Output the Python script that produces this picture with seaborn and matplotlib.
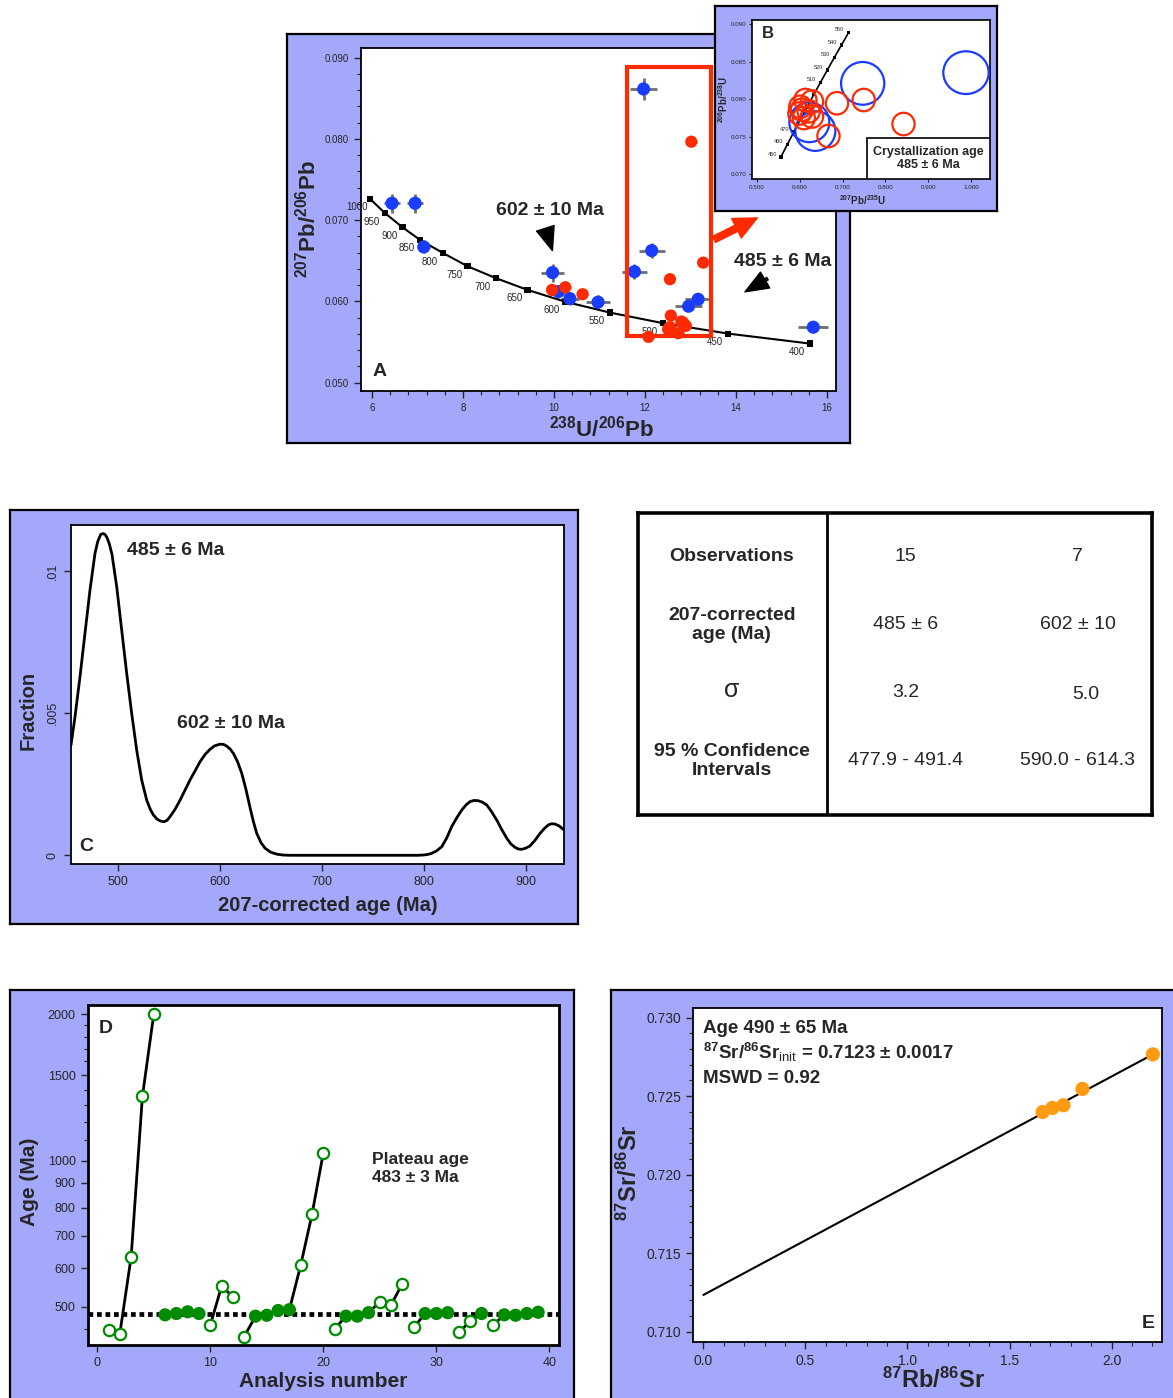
import numpy as np
import pandas as pd
import matplotlib
matplotlib.use("Agg")
import matplotlib.pyplot as plt
import seaborn as sns
from matplotlib.patches import Ellipse, Rectangle, FancyArrowPatch
from matplotlib.ticker import MultipleLocator, FormatStrFormatter, NullFormatter

sns.set_style("ticks")
plt.rcParams['font.family'] = ['Liberation Sans', 'DejaVu Sans']
plt.rcParams['mathtext.fontset'] = 'custom'
plt.rcParams['mathtext.rm'] = 'Liberation Sans'
plt.rcParams['mathtext.bf'] = 'Liberation Sans:bold'
plt.rcParams['mathtext.default'] = 'bf'

LAV = '#A4A8FA'
BLUE = '#1a3cff'
RED = '#ff2a00'
GREEN = '#008c00'
ORANGE = '#ff9b12'

# ---- panel A : Tera-Wasserburg ----
conc_age = [1000, 950, 900, 850, 800, 750, 700, 650, 600, 550, 500, 450, 400]
conc_x = [5.96, 6.29, 6.67, 7.06, 7.57, 8.10, 8.73, 9.42, 10.24, 11.23, 12.40, 13.83, 15.63]
conc_y = [0.07261, 0.07085, 0.06913, 0.06756, 0.06593, 0.06433, 0.06285, 0.06141,
          0.05997, 0.05862, 0.05731, 0.05603, 0.05480]

a_blue_x = [6.44, 6.95, 7.14, 9.97, 10.10, 10.35, 10.97, 11.97, 12.15, 11.77, 12.96, 13.17, 15.70]
a_blue_y = [0.07208, 0.07208, 0.06670, 0.06354, 0.06120, 0.06034, 0.05990, 0.08615,
            0.06625, 0.06366, 0.05940, 0.06026, 0.05682]
a_blue_xerr = [0.17, 0.17, 0.13, 0.25, 0.20, 0.20, 0.27, 0.29, 0.29, 0.27, 0.30, 0.29, 0.33]
a_blue_yerr = [0.0012, 0.0012, 0.0008, 0.0011, 0.0008, 0.0008, 0.0009, 0.0014,
               0.0009, 0.0009, 0.0006, 0.0008, 0.0005]

a_red_x = [9.96, 10.25, 10.63, 13.02, 13.28, 12.55, 12.57, 12.08, 12.55, 12.80, 12.90, 12.73, 12.51, 12.84]
a_red_y = [0.06141, 0.06174, 0.06088, 0.07966, 0.06477, 0.06273, 0.05825, 0.05563,
           0.05682, 0.05751, 0.05698, 0.05608, 0.05657, 0.05738]
a_red_xerr = 0.12
a_red_yerr = 0.0003

# ---- panel B : Wetherill concordia inset ----
b_conc_age = [450, 460, 470, 480, 490, 500, 510, 520, 530, 540, 550]
b_conc_x = [0.5559, 0.5709, 0.5860, 0.6013, 0.6168, 0.6325, 0.6484, 0.6645, 0.6807, 0.6972, 0.7138]
b_conc_y = [0.07232, 0.07398, 0.07564, 0.07729, 0.07895, 0.08061, 0.08226, 0.08392,
            0.08557, 0.08722, 0.08887]
b_conc_shown = [450, 460, 470, 510, 520, 530, 540, 550]

b_blue_x = [0.7469, 0.9883, 0.6222, 0.6363]
b_blue_y = [0.08212, 0.08355, 0.07693, 0.07577]
b_blue_w = [0.101, 0.106, 0.0935, 0.0935]
b_blue_h = [0.0057, 0.0057, 0.0053, 0.0053]

b_red_x = [0.6869, 0.7493, 0.8423, 0.6670, 0.6130, 0.6285, 0.6012, 0.6208, 0.5990, 0.6093, 0.6285, 0.6050]
b_red_y = [0.07947, 0.07990, 0.07670, 0.07510, 0.07990, 0.07970, 0.07900, 0.07840,
           0.07810, 0.07750, 0.07770, 0.07860]
b_red_w = 0.052
b_red_h = 0.0030

# ---- panel C : probability density ----
c_age = [454.3, 458.2, 463.1, 468.0, 472.9, 477.8, 480.5, 483.3, 485.4, 487.6, 489.8, 492.0,
         494.5, 499.1, 504.0, 508.9, 513.8, 518.7, 523.6, 528.5, 532.0, 535.0, 538.5, 541.6,
         545.5, 548.5, 551.4, 556.0, 561.2, 571.0, 580.8, 586.0, 590.6, 595.0, 600.4, 604.0,
         607.0, 610.5, 613.4, 617.5, 621.7, 625.8, 629.8, 633.0, 636.4, 640.5, 644.5, 650.0,
         656.0, 662.0, 669.0, 700.0, 750.0, 794.0, 799.7, 804.0, 807.9, 812.5, 817.7, 822.5,
         827.5, 832.5, 837.3, 841.5, 845.5, 849.5, 853.6, 857.5, 861.9, 866.5, 871.7, 876.5,
         881.5, 885.5, 889.6, 893.0, 896.2, 900.0, 904.3, 909.0, 914.1, 918.5, 922.3, 925.5,
         928.8, 932.5, 937.0]
c_frac = [0.00388, 0.00487, 0.00628, 0.00781, 0.00933, 0.01062, 0.01104, 0.01128, 0.01132,
          0.01129, 0.01116, 0.01094, 0.01058, 0.00945, 0.00792, 0.00640, 0.00499, 0.00370,
          0.00265, 0.00194, 0.00162, 0.00142, 0.00128, 0.00121, 0.00118, 0.00123, 0.00136,
          0.00160, 0.00194, 0.00265, 0.00329, 0.00356, 0.00373, 0.00385, 0.00391, 0.00390,
          0.00384, 0.00373, 0.00359, 0.00330, 0.00288, 0.00232, 0.00168, 0.00120, 0.00077,
          0.00045, 0.00025, 0.00011, 0.00004, 0.00001, 0.0, 0.0, 0.0, 0.0, 0.00001,
          0.00003, 0.00007, 0.00015, 0.00030, 0.00060, 0.00101, 0.00132, 0.00159, 0.00177,
          0.00189, 0.00193, 0.00192, 0.00187, 0.00177, 0.00154, 0.00124, 0.00091, 0.00060,
          0.00040, 0.00028, 0.00022, 0.00021, 0.00025, 0.00033, 0.00052, 0.00077, 0.00095,
          0.00107, 0.00111, 0.00110, 0.00104, 0.00091]

# ---- table ----
tab_rows = ["Observations", "207-corrected\nage (Ma)", "σ", "95 % Confidence\nIntervals"]
tab_young = ["15", "485 ± 6", "3.2", "477.9 - 491.4"]
tab_old = ["7", "602 ± 10", "5.0", "590.0 - 614.3"]

# ---- panel D : step-heating ages ----
d_n = list(range(1, 40))
d_age = [447, 440, 633, 1358, 2000, 481, 484, 488, 484, 458, 551, 524, 434, 478, 480, 491,
         493, 609, 775, 1038, 450, 478, 478, 486, 512, 505, 558, 453, 484, 484, 486, 443,
         467, 484, 458, 481, 480, 484, 487]
d_plateau_steps = [6, 7, 8, 9, 14, 15, 16, 17, 22, 23, 24, 29, 30, 31, 34, 36, 37, 38, 39]
d_links = [[2, 3, 4, 5], [10, 11, 12], [13, 14], [17, 18, 19, 20], [21, 22], [24, 25],
           [26, 27], [28, 29], [32, 33, 34], [35, 36]]
d_plateau_age = 483

# ---- panel E : Rb-Sr isochron ----
e_rb = [1.662, 1.710, 1.764, 1.857, 2.202]
e_sr = [0.72399, 0.72425, 0.72442, 0.72546, 0.72766]
iso_x = [0.0, 2.202]
iso_y = [0.71234, 0.72766]

W, H = 1173, 1398
fig = plt.figure(figsize=(W / 100, H / 100), dpi=100)


def px_axes(l, t, r, b, z=1):
    return fig.add_axes([l / W, 1 - b / H, (r - l) / W, (b - t) / H], zorder=z)


def frame(l, t, r, b, z=0):
    f = px_axes(l, t, r, b, z)
    f.set_facecolor(LAV)
    f.set_xticks([])
    f.set_yticks([])
    for s in f.spines.values():
        s.set_linewidth(1.6)
        s.set_color('black')
    return f


def spines(ax, lw):
    for s in ax.spines.values():
        s.set_linewidth(lw)
        s.set_color('black')


# ================= A =================
frame(287, 34, 850, 443, 0)
axA = px_axes(361, 48.3, 836, 390.7, 1)
axA.errorbar(a_blue_x, a_blue_y, xerr=a_blue_xerr, yerr=a_blue_yerr, fmt='none',
             ecolor='#6e6e6e', elinewidth=2, capsize=0, zorder=2)
axA.errorbar(a_red_x, a_red_y, xerr=a_red_xerr, yerr=a_red_yerr, fmt='none',
             ecolor='#6e6e6e', elinewidth=2, capsize=0, zorder=2)
sns.lineplot(x=conc_x, y=conc_y, ax=axA, color='black', linewidth=1.5, sort=False,
             estimator=None, zorder=3)
sns.scatterplot(x=conc_x, y=conc_y, ax=axA, color='black', marker='s', s=20,
                edgecolor='none', zorder=3)
for ag, x, y in zip(conc_age, conc_x, conc_y):
    axA.annotate(str(ag), (x, y), xytext=(-9.5, -6), textcoords='offset points',
                 fontsize=7, ha='center', va='center', zorder=3)
sns.scatterplot(x=a_blue_x, y=a_blue_y, ax=axA, color=BLUE, s=90, edgecolor='none', zorder=4)
sns.scatterplot(x=a_red_x, y=a_red_y, ax=axA, color=RED, s=78, edgecolor='none', zorder=5)
axA.add_patch(Rectangle((11.61, 0.05575), 1.84, 0.03307, fill=False, ec=RED, lw=3, zorder=6))
axA.add_patch(FancyArrowPatch((13.466, 0.06748), (14.527, 0.07043),
                              arrowstyle='simple,head_length=1.4,head_width=1.3,tail_width=0.4',
                              mutation_scale=12, color=RED, zorder=6, clip_on=False))
axA.add_patch(FancyArrowPatch((9.80, 0.0692), (9.985, 0.06593),
                              arrowstyle='simple,head_length=1.4,head_width=1.1,tail_width=0.17',
                              mutation_scale=12, color='black', zorder=6))
axA.add_patch(FancyArrowPatch((14.747, 0.06297), (14.147, 0.0610),
                              arrowstyle='simple,head_length=1.4,head_width=1.1,tail_width=0.17',
                              mutation_scale=12, color='black', zorder=6))
axA.text(9.912, 0.07113, "602 ± 10 Ma", fontsize=14, fontweight='bold', ha='center', va='center')
axA.text(15.02, 0.06489, "485 ± 6 Ma", fontsize=14, fontweight='bold', ha='center', va='center')
axA.text(0.04, 0.055, "A", transform=axA.transAxes, fontsize=14, fontweight='bold',
         ha='center', va='center')
axA.set_xlim(5.76, 16.2)
axA.set_ylim(0.0490, 0.09116)
axA.set_xticks([6, 8, 10, 12, 14, 16])
axA.xaxis.set_minor_locator(MultipleLocator(0.4))
axA.set_yticks([0.05, 0.06, 0.07, 0.08, 0.09])
axA.yaxis.set_minor_locator(MultipleLocator(0.002))
axA.yaxis.set_major_formatter(FormatStrFormatter('%.3f'))
axA.tick_params(which='major', direction='out', labelsize=7, length=5, width=1)
axA.tick_params(which='minor', direction='out', length=3, width=0.8)
axA.set_xlabel(r'$^{238}$U/$^{206}$Pb', fontsize=16, fontweight='bold', va='center')
axA.set_ylabel(r'$^{207}$Pb/$^{206}$Pb', fontsize=16, fontweight='bold', va='center')
axA.xaxis.set_label_coords(0.507, -0.11)
axA.yaxis.set_label_coords(-0.112, 0.50)
spines(axA, 1.3)

# ================= B (inset) =================
frame(715, 6, 997, 211, 2)
axB = px_axes(752, 20, 989.7, 179, 3)
for x, y, w, h in zip(b_blue_x, b_blue_y, b_blue_w, b_blue_h):
    axB.add_patch(Ellipse((x, y), w, h, fill=False, ec=BLUE, lw=1.6, zorder=3))
for x, y in zip(b_red_x, b_red_y):
    axB.add_patch(Ellipse((x, y), b_red_w, b_red_h, fill=False, ec=RED, lw=1.6, zorder=4))
sns.lineplot(x=b_conc_x, y=b_conc_y, ax=axB, color='black', linewidth=1.2, sort=False,
             estimator=None, zorder=2)
sns.scatterplot(x=b_conc_x, y=b_conc_y, ax=axB, color='black', marker='s', s=6,
                edgecolor='none', zorder=2)
for ag, x, y in zip(b_conc_age, b_conc_x, b_conc_y):
    if ag in b_conc_shown:
        axB.annotate(str(ag), (x, y), xytext=(-3, 2), textcoords='offset points',
                     fontsize=4, ha='right', va='center', zorder=2)
axB.add_patch(Rectangle((0.484, 0.0), 0.516, 0.256, transform=axB.transAxes, fc='white',
                        ec='black', lw=1.2, zorder=5))
axB.text(0.742, 0.128, "Crystallization age\n485 ± 6 Ma", transform=axB.transAxes,
         fontsize=9, fontweight='bold', ha='center', va='center', linespacing=1.05, zorder=6)
axB.text(0.065, 0.915, "B", transform=axB.transAxes, fontsize=12, fontweight='bold',
         ha='center', va='center')
axB.set_xlim(0.4883, 1.0437)
axB.set_ylim(0.06937, 0.09057)
axB.set_xticks([0.5, 0.6, 0.7, 0.8, 0.9, 1.0])
axB.set_yticks([0.070, 0.075, 0.080, 0.085, 0.090])
axB.xaxis.set_major_formatter(FormatStrFormatter('%.3f'))
axB.yaxis.set_major_formatter(FormatStrFormatter('%.3f'))
axB.tick_params(direction='out', labelsize=4.5, length=2.5, width=0.8, pad=1.5)
axB.set_xlabel(r'$^{207}$Pb/$^{235}$U', fontsize=7, fontweight='bold', va='center')
axB.set_ylabel(r'$^{206}$Pb/$^{238}$U', fontsize=7, fontweight='bold', va='center')
axB.xaxis.set_label_coords(0.465, -0.13)
axB.yaxis.set_label_coords(-0.12, 0.50)
spines(axB, 1.2)

# ================= C =================
frame(10, 510, 578, 924, 0)
axC = px_axes(70.7, 525, 563.8, 864, 1)
sns.lineplot(x=c_age, y=c_frac, ax=axC, color='black', linewidth=2, sort=False, estimator=None)
axC.set_xlim(454, 937.4)
axC.set_ylim(-0.000306, 0.01162)
axC.set_xticks([500, 600, 700, 800, 900])
axC.set_yticks([0, 0.005, 0.01])
axC.set_yticklabels(['0', '.005', '.01'], rotation=90, va='center')
axC.tick_params(direction='out', labelsize=9, length=5, width=1)
axC.text(556.6, 0.01071, "485 ± 6 Ma", fontsize=14, fontweight='bold', ha='center', va='center')
axC.text(611, 0.00465, "602 ± 10 Ma", fontsize=14, fontweight='bold', ha='center', va='center')
axC.text(0.032, 0.051, "C", transform=axC.transAxes, fontsize=14, fontweight='bold',
         ha='center', va='center')
axC.set_xlabel("207-corrected age (Ma)", fontsize=14.5, fontweight='bold', va='center')
axC.set_ylabel("Fraction", fontsize=14.5, fontweight='bold', va='center')
axC.xaxis.set_label_coords(0.522, -0.121)
axC.yaxis.set_label_coords(-0.087, 0.454)
spines(axC, 1.3)

# ================= table =================
axT = px_axes(638.3, 513.3, 1151.7, 815, 1)
axT.set_xticks([])
axT.set_yticks([])
axT.set_xlim(0, 1)
axT.set_ylim(0, 1)
spines(axT, 2.6)
axT.axvline(0.367, color='black', lw=2)
row_y = [0.858, 0.630, 0.407, 0.179]
for lab, yv, ov, yy in zip(tab_rows, tab_young, tab_old, row_y):
    if lab == "σ":
        axT.text(0.182, yy + 0.006, lab, fontsize=18, ha='center', va='center')
    else:
        axT.text(0.182, yy, lab, fontsize=14, fontweight='bold', ha='center', va='center',
                 linespacing=1.1)
    axT.text(0.521, yy, yv, fontsize=14, ha='center', va='center')
    axT.text(0.871 if ov == "5.0" else 0.856, yy - (0.006 if ov == "5.0" else 0), ov,
             fontsize=14, ha='center', va='center')

# ================= D =================
frame(10, 990, 574, 1402, 0)
axD = px_axes(87.5, 1005, 558.5, 1345, 1)
axD.set_yscale('log')
axD.axhline(d_plateau_age, color='black', lw=3.4, ls=(0, (1, 0.8)), zorder=2)
d_df = pd.DataFrame({'n': d_n, 'age': d_age})
d_df['plateau'] = d_df['n'].isin(d_plateau_steps)
for link in d_links:
    seg = d_df[d_df['n'].isin(link)]
    sns.lineplot(x=seg['n'], y=seg['age'], ax=axD, color='black', linewidth=2,
                 estimator=None, sort=False, zorder=3)
open_pts = d_df[~d_df['plateau']]
fill_pts = d_df[d_df['plateau']]
sns.scatterplot(x=open_pts['n'], y=open_pts['age'], ax=axD, facecolor='white',
                edgecolor=GREEN, linewidth=1.6, s=66, zorder=4)
sns.scatterplot(x=fill_pts['n'], y=fill_pts['age'], ax=axD, color=GREEN, edgecolor='none',
                s=90, zorder=4)
axD.set_xlim(-0.86, 40.8)
axD.set_ylim(416.9, 2091)
axD.set_xticks([0, 10, 20, 30, 40])
axD.set_yticks([500, 600, 700, 800, 900, 1000, 1500, 2000])
axD.set_yticklabels(['500', '600', '700', '800', '900', '1000', '1500', '2000'])
axD.set_yticks([450, 1100, 1200, 1300, 1400, 1600, 1700, 1800, 1900], minor=True)
axD.yaxis.set_minor_formatter(NullFormatter())
axD.tick_params(which='major', direction='out', labelsize=9, length=5, width=1)
axD.tick_params(which='minor', direction='out', length=3, width=0.8)
axD.set_xlabel("Analysis number", fontsize=15, fontweight='bold', va='center')
axD.set_ylabel("Age (Ma)", fontsize=15, fontweight='bold', va='center')
axD.xaxis.set_label_coords(0.501, -0.108)
axD.yaxis.set_label_coords(-0.123, 0.48)
axD.text(0.604, 0.518, "Plateau age\n483 ± 3 Ma", transform=axD.transAxes, fontsize=12.5,
         fontweight='bold', ha='left', va='center', linespacing=1.25)
axD.text(0.038, 0.932, "D", transform=axD.transAxes, fontsize=14, fontweight='bold',
         ha='center', va='center')
spines(axD, 2)

# ================= E =================
frame(611, 990, 1180, 1402, 0)
axE = px_axes(693.3, 1008.3, 1161.9, 1341.7, 1)
sns.lineplot(x=iso_x, y=iso_y, ax=axE, color='black', linewidth=1.5, estimator=None)
sns.scatterplot(x=e_rb, y=e_sr, ax=axE, color=ORANGE, s=105, edgecolor='none', zorder=4)
axE.set_xlim(-0.0493, 2.2463)
axE.set_ylim(0.709363, 0.730594)
axE.set_xticks([0.0, 0.5, 1.0, 1.5, 2.0])
axE.xaxis.set_minor_locator(MultipleLocator(0.1))
axE.set_yticks([0.710, 0.715, 0.720, 0.725, 0.730])
axE.yaxis.set_minor_locator(MultipleLocator(0.001))
axE.xaxis.set_major_formatter(FormatStrFormatter('%.1f'))
axE.yaxis.set_major_formatter(FormatStrFormatter('%.3f'))
axE.tick_params(which='major', direction='out', labelsize=10, length=5, width=1)
axE.tick_params(which='minor', direction='out', length=3, width=0.8)
axE.set_xlabel(r'$^{87}$Rb/$^{86}$Sr', fontsize=17, fontweight='bold', va='center')
axE.set_ylabel(r'$^{87}$Sr/$^{86}$Sr', fontsize=17, fontweight='bold', va='center')
axE.xaxis.set_label_coords(0.512, -0.115)
axE.yaxis.set_label_coords(-0.136, 0.506)
e_lines = ["Age 490 ± 65 Ma", r"$^{87}$Sr/$^{86}$Sr$_{\rm init}$ = 0.7123 ± 0.0017", "MSWD = 0.92"]
for txt, yy in zip(e_lines, [0.940, 0.867, 0.788]):
    axE.text(0.02, yy, txt, transform=axE.transAxes, fontsize=13.5, fontweight='bold',
             ha='left', va='center')
axE.text(0.970, 0.055, "E", transform=axE.transAxes, fontsize=14, fontweight='bold',
         ha='center', va='center')
spines(axE, 1.3)

fig.savefig("out.png", dpi=100)
